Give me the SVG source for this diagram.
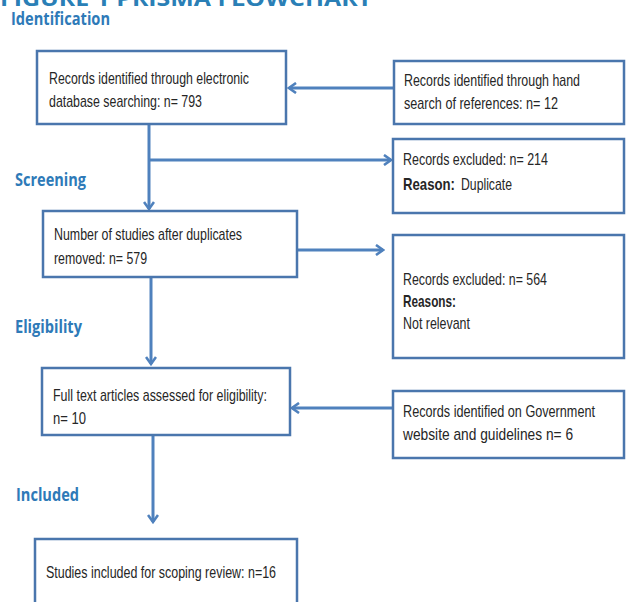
<svg xmlns="http://www.w3.org/2000/svg" width="626" height="602" viewBox="0 0 626 602">
<defs>
<marker id="arr" viewBox="0 0 12 12" refX="10" refY="6" markerWidth="12" markerHeight="12" markerUnits="userSpaceOnUse" orient="auto">
<polyline points="3,1 10,6 3,11" fill="none" stroke="#4f81bd" stroke-width="2.6" stroke-linejoin="miter"/>
</marker>
</defs>
<style>
.box{fill:#fff;stroke:#4a76ad;stroke-width:2.5}
.t{font-family:"Liberation Sans",Arial,sans-serif;font-size:17px;fill:#262626}
.b{font-weight:bold}
.h{font-family:"Open Sans","Liberation Sans",sans-serif;font-weight:bold;font-size:17px;fill:#2e7ab8}
.title{font-family:"Open Sans","Liberation Sans",sans-serif;font-weight:bold;font-size:22px;fill:#2a7fb6}
.c{fill:none;stroke:#4f81bd;stroke-width:3}
</style>
<rect width="626" height="602" fill="#fff"/>
<text class="title" x="0" y="6" textLength="372" lengthAdjust="spacingAndGlyphs">FIGURE 1 PRISMA FLOWCHART</text>
<g id="headings">
<text class="h" x="11" y="25" textLength="99" lengthAdjust="spacingAndGlyphs">Identification</text>
<text class="h" x="15" y="186" textLength="71" lengthAdjust="spacingAndGlyphs">Screening</text>
<text class="h" x="15" y="333" textLength="67" lengthAdjust="spacingAndGlyphs">Eligibility</text>
<text class="h" x="16" y="501" textLength="63" lengthAdjust="spacingAndGlyphs">Included</text>
</g>
<g id="connectors">
<line class="c" x1="149" y1="124" x2="149" y2="209" marker-end="url(#arr)"/>
<line class="c" x1="149" y1="160" x2="391" y2="160" marker-end="url(#arr)"/>
<line class="c" x1="393" y1="88" x2="289" y2="88" marker-end="url(#arr)"/>
<line class="c" x1="297" y1="250" x2="383" y2="250" marker-end="url(#arr)"/>
<line class="c" x1="151" y1="277" x2="151" y2="364" marker-end="url(#arr)"/>
<line class="c" x1="392" y1="408" x2="292" y2="408" marker-end="url(#arr)"/>
<line class="c" x1="153" y1="436" x2="153" y2="522" marker-end="url(#arr)"/>
</g>
<g id="n_db">
<rect class="box" x="37" y="51" width="249" height="73"/>
<text class="t" transform="translate(49,84) scale(0.75,1)" textLength="266.7" lengthAdjust="spacingAndGlyphs">Records identified through electronic</text>
<text class="t" transform="translate(49,107) scale(0.75,1)" textLength="204" lengthAdjust="spacingAndGlyphs">database searching: n= 793</text>
</g>
<g id="n_hand">
<rect class="box" x="394" y="61" width="230" height="63"/>
<text class="t" transform="translate(404,86) scale(0.75,1)" textLength="234.7" lengthAdjust="spacingAndGlyphs">Records identified through hand</text>
<text class="t" transform="translate(404,109) scale(0.75,1)" textLength="205.3" lengthAdjust="spacingAndGlyphs">search of references: n= 12</text>
</g>
<g id="n_excl1">
<rect class="box" x="393" y="139" width="231" height="74"/>
<text class="t" transform="translate(403,165) scale(0.75,1)" textLength="193.3" lengthAdjust="spacingAndGlyphs">Records excluded: n= 214</text>
<text class="t b" transform="translate(403,190) scale(0.75,1)" textLength="69.3" lengthAdjust="spacingAndGlyphs">Reason:</text>
<text class="t" transform="translate(461,190) scale(0.75,1)" textLength="68" lengthAdjust="spacingAndGlyphs">Duplicate</text>
</g>
<g id="n_dup">
<rect class="box" x="43" y="211" width="254" height="66"/>
<text class="t" transform="translate(54,240) scale(0.75,1)" textLength="250.7" lengthAdjust="spacingAndGlyphs">Number of studies after duplicates</text>
<text class="t" transform="translate(54,264) scale(0.75,1)" textLength="124" lengthAdjust="spacingAndGlyphs">removed: n= 579</text>
</g>
<g id="n_excl2">
<rect class="box" x="393" y="235" width="231" height="123"/>
<text class="t" transform="translate(403,285) scale(0.75,1)" textLength="192" lengthAdjust="spacingAndGlyphs">Records excluded: n= 564</text>
<text class="t b" transform="translate(403,307) scale(0.75,1)" textLength="70.7" lengthAdjust="spacingAndGlyphs">Reasons:</text>
<text class="t" transform="translate(403,329) scale(0.75,1)" textLength="89.3" lengthAdjust="spacingAndGlyphs">Not relevant</text>
</g>
<g id="n_full">
<rect class="box" x="42" y="368" width="248" height="67"/>
<text class="t" transform="translate(53,401) scale(0.75,1)" textLength="285.3" lengthAdjust="spacingAndGlyphs">Full text articles assessed for eligibility:</text>
<text class="t" transform="translate(53,424) scale(0.75,1)" textLength="44" lengthAdjust="spacingAndGlyphs">n= 10</text>
</g>
<g id="n_gov">
<rect class="box" x="393" y="391" width="231" height="67"/>
<text class="t" transform="translate(403,417) scale(0.75,1)" textLength="256" lengthAdjust="spacingAndGlyphs">Records identified on Government</text>
<text class="t" transform="translate(403,440) scale(0.75,1)" textLength="226.7" lengthAdjust="spacingAndGlyphs">website and guidelines n= 6</text>
</g>
<g id="n_incl">
<rect class="box" x="35" y="539" width="262" height="80"/>
<text class="t" transform="translate(46,578) scale(0.75,1)" textLength="306.7" lengthAdjust="spacingAndGlyphs">Studies included for scoping review: n=16</text>
</g>
</svg>
